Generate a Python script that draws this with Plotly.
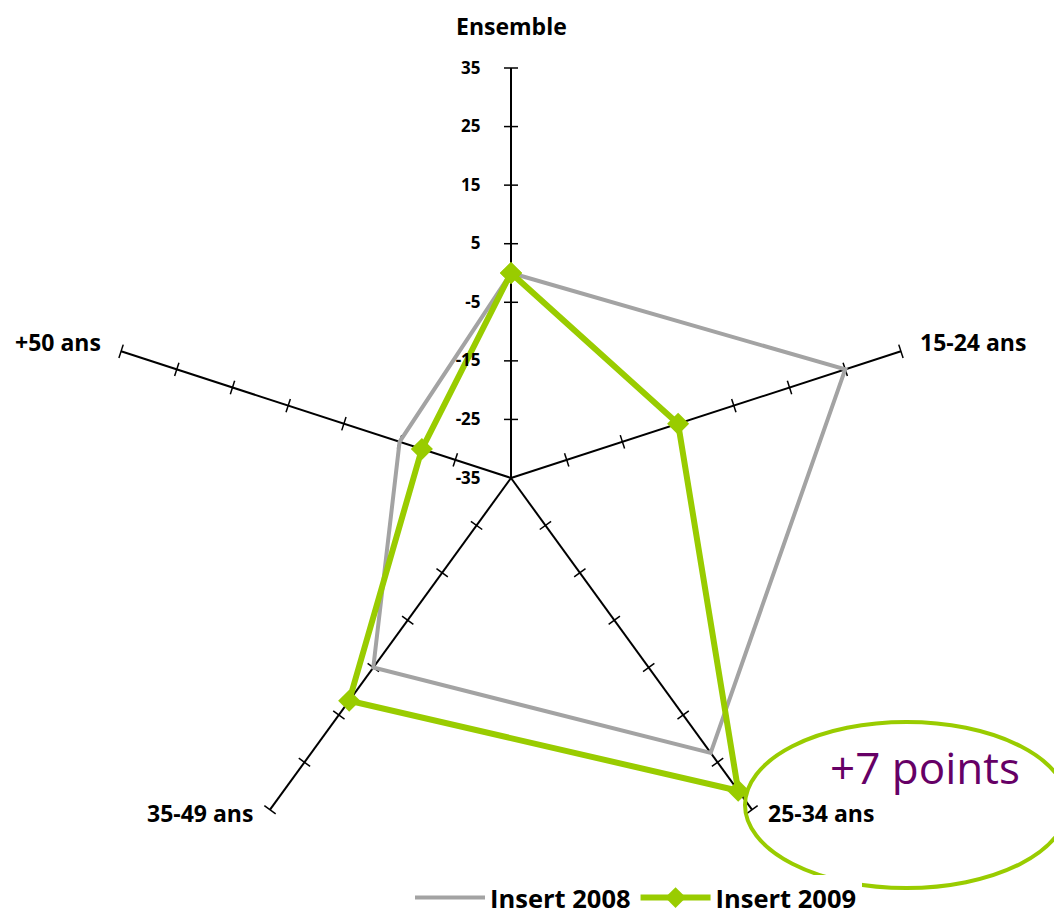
import plotly.graph_objects as go

# categories / values
categories = ["Ensemble", "15-24 ans", "25-34 ans", "35-49 ans", "+50 ans"]
insert_2008 = [0, 25, 23, 5, -15]
insert_2009 = [0, -5, 31, 12, -19]
tick_values = [-35, -25, -15, -5, 5, 15, 25, 35]

# page body has an 8px margin, so the figure is laid out 8px in from the window
W, H = 1054, 909
OFF = 8
GREY = "#a3a3a3"
GREEN = "#99cc00"
FONT = "Open Sans"
R0 = tick_values[0]  # radial axis starts at -35 (centre)


def px(x):
    return (x - OFF) / W


def py(y):
    return 1 - (y - OFF) / H


def shift(vals):
    # plotly polar wants r >= range start, so measure from the centre value
    return [v - R0 for v in vals]


fig = go.Figure()

# small cross ticks on every spoke, rotated perpendicular to the spoke
tick_r, tick_theta, tick_angle = [], [], []
for i, cat in enumerate(categories):
    for v in tick_values[1:]:
        tick_r.append(v - R0)
        tick_theta.append(cat)
        tick_angle.append(72 * i)

fig.add_trace(go.Scatterpolar(
    r=tick_r,
    theta=tick_theta,
    mode="markers",
    marker=dict(symbol="line-ew", size=10, angle=tick_angle,
                line=dict(color="black", width=1.5)),
    showlegend=False,
    hoverinfo="skip"
))

fig.add_trace(go.Scatterpolar(
    r=shift(insert_2008 + insert_2008[:1]),
    theta=categories + categories[:1],
    mode="lines",
    name="Insert 2008",
    line=dict(color=GREY, width=4)
))

fig.add_trace(go.Scatterpolar(
    r=shift(insert_2009 + insert_2009[:1]),
    theta=categories + categories[:1],
    mode="lines+markers",
    name="Insert 2009",
    line=dict(color=GREEN, width=6),
    marker=dict(symbol="diamond", size=17, color=GREEN)
))

# category labels around the web
label_pos = [
    (511, 26, "center"),
    (918, 342, "left"),
    (766, 813, "left"),
    (255, 813, "right"),
    (103, 342, "right"),
]
for cat, (x, y, anchor) in zip(categories, label_pos):
    fig.add_annotation(
        x=px(x), y=py(y), xref="paper", yref="paper",
        text=cat, showarrow=False, xanchor=anchor, yanchor="middle",
        font=dict(family=FONT, size=23, color="black", weight="bold")
    )

# highlight ellipse
fig.add_shape(
    type="circle", xref="paper", yref="paper",
    x0=px(745), x1=px(1068), y0=py(888), y1=py(722),
    line=dict(color=GREEN, width=4)
)
fig.add_annotation(
    x=px(925), y=py(767), xref="paper", yref="paper",
    text="+7 points", showarrow=False, xanchor="center", yanchor="middle",
    font=dict(family=FONT, size=44, color="#660066")
)

fig.update_layout(
    width=W, height=H,
    margin=dict(l=0, r=0, t=0, b=0, autoexpand=False),
    paper_bgcolor="white",
    font=dict(family=FONT, color="black"),
    polar=dict(
        domain=dict(x=[px(101), px(921)], y=[py(888), py(68)]),
        bgcolor="white",
        radialaxis=dict(
            range=[0, tick_values[-1] - R0],
            angle=90,
            tickangle=90,
            side="counterclockwise",
            tickvals=shift(tick_values),
            ticktext=[str(v) for v in tick_values],
            ticks="outside", ticklen=24, tickcolor="rgba(0,0,0,0)",
            showline=False,
            showgrid=False,
            tickfont=dict(family=FONT, size=17, weight="bold")
        ),
        angularaxis=dict(
            direction="clockwise",
            rotation=90,
            showline=False,
            showgrid=True,
            gridcolor="black",
            gridwidth=1.5,
            ticks="",
            showticklabels=False
        )
    ),
    legend=dict(
        orientation="h",
        x=px(636), xanchor="center",
        y=py(898), yanchor="middle",
        font=dict(family=FONT, size=25.5, weight="bold"),
        itemwidth=70
    )
)

fig.write_html("out.html")
